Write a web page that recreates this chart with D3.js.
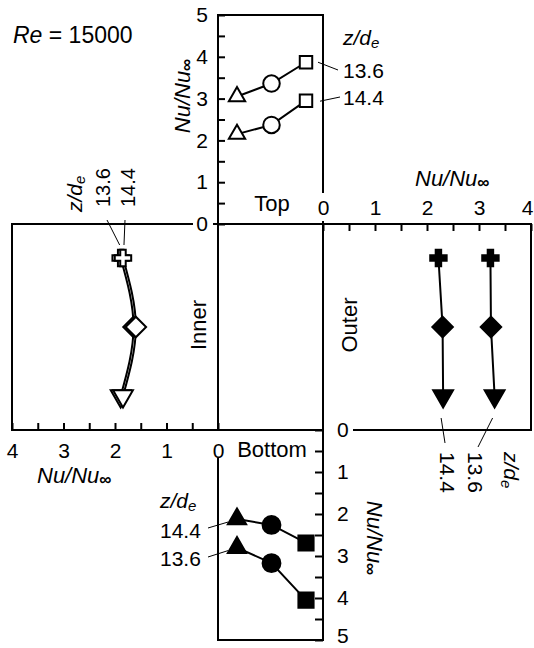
<!DOCTYPE html>
<html><head><meta charset="utf-8">
<script src="https://cdn.jsdelivr.net/npm/d3@7/dist/d3.min.js"></script>
<style>
body{margin:0;background:#fff;}
svg text{font-family:"Liberation Sans", Arial, Helvetica, sans-serif; fill:#000;}
</style></head><body>
<svg id="c" width="534" height="648"></svg>
<script>
// ---------------- DATA ----------------
const wallStations = ["triangle", "circle", "square"];        // along top / bottom walls
const sideStations = ["cross", "diamond", "triangleDown"];    // along inner / outer walls
const zLabels = ["13.6", "14.4"];
const topNu_136 = [3.05, 3.36, 3.87];
const topNu_144 = [2.15, 2.37, 2.95];
const bottomNu_144 = [2.12, 2.26, 2.69];
const bottomNu_136 = [2.80, 3.17, 4.05];
const outerNu_144 = [2.22, 2.30, 2.31];
const outerNu_136 = [3.22, 3.23, 3.30];
const innerNu_136 = [1.89, 1.64, 1.89];
const innerNu_144 = [1.845, 1.595, 1.845];
const vertTicks = [0, 1, 2, 3, 4, 5];
const horizTicks = [0, 1, 2, 3, 4];

// ---------------- LAYOUT ----------------
const L = 12, CX0 = 218, CX1 = 323, R = 531, T = 15, CY0 = 224, CY1 = 430, B = 640;
const FS = 21;
const svg = d3.select("#c");

const yTop = d3.scaleLinear().domain([0, 5]).range([CY0, T]);
const xRight = d3.scaleLinear().domain([0, 4]).range([CX1, R]);
const yBot = d3.scaleLinear().domain([0, 5]).range([CY1, B]);
const xLeft = d3.scaleLinear().domain([0, 4]).range([CX0, L]);
const xWall = d3.scalePoint().domain(wallStations).range([CX0 + 19, CX1 - 17]);
const ySide = d3.scalePoint().domain(sideStations).range([CY0 + 34, CY1 - 34]);

const half = (arr) => { const out = []; arr.forEach((v, i) => { out.push(v); if (i < arr.length - 1) out.push(v + 0.5); }); return out; };
const fmt = d => Number.isInteger(d) ? String(d) : "";

function styleAxis(g) {
  g.select(".domain").remove();
  g.attr("font-family", null).attr("font-size", FS);
  g.selectAll(".tick line").attr("stroke", "#000").attr("stroke-width", 2);
  g.selectAll(".tick text").attr("fill", "#000");
}

// axes (ticks pointing into each panel)
svg.append("g").attr("transform", `translate(${CX0},0)`)
  .call(d3.axisLeft(yTop).tickValues(half(vertTicks)).tickFormat(fmt).tickSize(-7).tickPadding(10))
  .call(styleAxis);
const gR = svg.append("g").attr("transform", `translate(0,${CY0})`)
  .call(d3.axisTop(xRight).tickValues(half(horizTicks)).tickFormat(fmt).tickSize(-7).tickPadding(9))
  .call(styleAxis);
gR.selectAll(".tick text").filter(d => d === 4).attr("dx", -4);
const gB = svg.append("g").attr("transform", `translate(${CX1},0)`)
  .call(d3.axisRight(yBot).tickValues(half(vertTicks)).tickFormat(fmt).tickSize(-8).tickPadding(14))
  .call(styleAxis);
gB.selectAll(".tick text").filter(d => d === 5).attr("dy", "0.1em");
svg.append("g").attr("transform", `translate(0,${CY1})`)
  .call(d3.axisBottom(xLeft).tickValues(half(horizTicks)).tickFormat(fmt).tickSize(-7).tickPadding(13))
  .call(styleAxis);

// frame lines (broken where the corner "0" labels sit)
const frame = [
  [CX0, T, CX1, T],
  [CX0, T, CX0, CY1], [CX0, CY1 + 29, CX0, B],
  [CX1, T, CX1, CY0 - 32], [CX1, CY0 - 2, CX1, B],
  [L, CY0, CX0 - 26, CY0], [CX0 - 4, CY0, R, CY0],
  [L, CY1, CX1, CY1], [CX1 + 31, CY1, R, CY1],
  [L, CY0, L, CY1], [R, CY0, R, CY1], [CX0, B, CX1, B]
];
svg.append("g").selectAll("line").data(frame).join("line")
  .attr("x1", d => d[0]).attr("y1", d => d[1]).attr("x2", d => d[2]).attr("y2", d => d[3])
  .attr("stroke", "#000").attr("stroke-width", 2).attr("stroke-linecap", "square");

// ---------------- MARKS ----------------
const sym = (type, size) => d3.symbol().type(type).size(size)();
const shapes = {
  triangle: { p: sym(d3.symbolTriangle, 115), rot: 0 },
  circle: { p: sym(d3.symbolCircle, 215), rot: 0 },
  square: { p: sym(d3.symbolSquare, 155), rot: 0 },
  triangleF: { p: sym(d3.symbolTriangle, 145), rot: 0 },
  circleF: { p: sym(d3.symbolCircle, 250), rot: 0 },
  squareF: { p: sym(d3.symbolSquare, 230), rot: 0 },
  cross: { p: sym(d3.symbolCross, 150), rot: 0 },
  diamond: { p: sym(d3.symbolSquare, 210), rot: 45 },
  triangleDown: { p: sym(d3.symbolTriangle, 170), rot: 180 }
};
function markers(g, pts, filled) {
  g.selectAll(null).data(pts).join("path")
    .attr("d", d => shapes[d.s].p)
    .attr("transform", d => `translate(${d.x},${d.y}) rotate(${shapes[d.s].rot})`)
    .attr("fill", filled ? "#000" : "#fff")
    .attr("stroke", "#000").attr("stroke-width", 2).attr("stroke-linejoin", "miter");
}
function series(vals, xf, yf, curve, shapeSuffix, stationList) {
  const pts = vals.map((v, i) => ({ x: xf(v, i), y: yf(v, i), s: stationList[i] + shapeSuffix }));
  const g = svg.append("g");
  g.append("path").attr("d", d3.line().x(d => d.x).y(d => d.y).curve(curve)(pts))
    .attr("fill", "none").attr("stroke", "#000").attr("stroke-width", 2);
  return { g, pts };
}

// top wall (open markers)
[topNu_136, topNu_144].forEach(vals => {
  const s = series(vals, (v, i) => xWall(wallStations[i]), v => yTop(v), d3.curveLinear, "", wallStations);
  markers(s.g, s.pts, false);
});
// bottom wall (filled markers)
[bottomNu_144, bottomNu_136].forEach(vals => {
  const s = series(vals, (v, i) => xWall(wallStations[i]), v => yBot(v), d3.curveLinear, "F", wallStations);
  markers(s.g, s.pts, true);
});
// outer wall (filled)
[outerNu_144, outerNu_136].forEach(vals => {
  const pts = vals.map((v, i) => ({ x: xRight(v), y: ySide(sideStations[i]), s: sideStations[i] }));
  const g = svg.append("g");
  g.append("path").attr("d", d3.line().x(d => d.x).y(d => d.y)(pts))
    .attr("fill", "none").attr("stroke", "#000").attr("stroke-width", 2);
  markers(g, pts, true);
});
// inner wall (open, two nearly coincident curves)
const innerPts = [innerNu_136, innerNu_144].map(vals =>
  vals.map((v, i) => ({ x: xLeft(v), y: ySide(sideStations[i]), s: sideStations[i] })));
const gi = svg.append("g");
innerPts.forEach(pts => gi.append("path")
  .attr("d", d3.line().x(d => d.x).y(d => d.y).curve(d3.curveNatural)(pts))
  .attr("fill", "none").attr("stroke", "#000").attr("stroke-width", 2));
innerPts.forEach(pts => markers(gi, pts, false));

// ---------------- TEXT ----------------
function nuTitle(x, y, rot, anchor) {
  const t = svg.append("text").attr("transform", `translate(${x},${y}) rotate(${rot})`)
    .attr("font-size", 22).attr("text-anchor", anchor);
  t.append("tspan").attr("font-style", "italic").text("Nu/Nu");
  t.append("tspan").attr("font-size", 17).attr("font-weight", "bold").attr("dy", 2).text("\u221E");
}
nuTitle(190, 96, -90, "middle");
nuTitle(415, 186, 0, "start");
nuTitle(367, 538, 90, "middle");
nuTitle(37, 483, 0, "start");

function zde(x, y, rot) {
  const t = svg.append("text").attr("transform", `translate(${x},${y}) rotate(${rot})`).attr("font-size", 21);
  t.append("tspan").attr("font-style", "italic").text("z/d");
  t.append("tspan").attr("font-style", "italic").attr("font-size", 15).attr("dy", 3).text("e");
}
function lab(x, y, rot, txt, anchor = "start", fs = 20) {
  svg.append("text").attr("transform", `translate(${x},${y}) rotate(${rot})`)
    .attr("font-size", fs).attr("text-anchor", anchor).text(txt);
}
function leader(x1, y1, x2, y2) {
  svg.append("line").attr("x1", x1).attr("y1", y1).attr("x2", x2).attr("y2", y2)
    .attr("stroke", "#000").attr("stroke-width", 1);
}

// Re label
const re = svg.append("text").attr("x", 13).attr("y", 43).attr("font-size", 23);
re.append("tspan").attr("font-style", "italic").text("Re");
re.append("tspan").text(" = 15000");

// panel names
lab(272, 211, 0, "Top", "middle", 22);
lab(272, 457, 0, "Bottom", "middle", 22);
lab(206, 325, -90, "Inner", "middle", 22);
lab(357, 325, -90, "Outer", "middle", 22);

// top wall labels
zde(343, 45, 0);
lab(343, 78, 0, zLabels[0], "start", 21);
lab(343, 105, 0, zLabels[1], "start", 21);
leader(xWall("square") + 12, yTop(topNu_136[2]), 338, 70);
leader(xWall("square") + 14, yTop(topNu_144[2]) + 0.5, 340, 97);

// bottom wall labels
zde(160, 508, 0);
lab(160, 538, 0, zLabels[1], "start", 21);
lab(160, 566, 0, zLabels[0], "start", 21);
leader(208, 528, xWall("triangle") - 9, yBot(bottomNu_144[0]) + 3);
leader(208, 557, xWall("triangle") - 9, yBot(bottomNu_136[0]) + 3);

// outer wall labels
lab(440, 452, 90, zLabels[1], "start", 21);
lab(468, 452, 90, zLabels[0], "start", 21);
zde(504, 452, 90);
leader(xRight(outerNu_144[2]) - 2, ySide("triangleDown") + 22, 445, 443);
leader(xRight(outerNu_136[2]) - 2, ySide("triangleDown") + 22, 478, 447);

// inner wall labels
lab(110, 207, -90, zLabels[0]);
lab(135, 207, -90, zLabels[1]);
zde(82, 212, -90);
leader(107, 220, xLeft(innerNu_136[0]) - 1, ySide("cross") - 13);
leader(125, 220, xLeft(innerNu_144[0]) + 1, ySide("cross") - 13);
</script>
</body></html>
